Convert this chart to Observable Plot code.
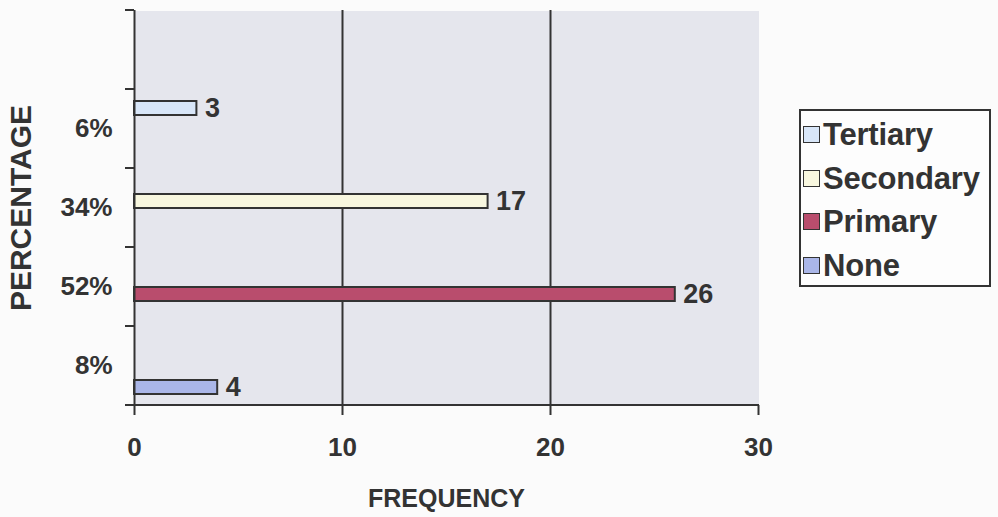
<!DOCTYPE html>
<html>
<head>
<meta charset="utf-8">
<script src="https://cdn.jsdelivr.net/npm/d3@7"></script>
<script src="https://cdn.jsdelivr.net/npm/@observablehq/plot@0.6"></script>
<style>
  html, body { margin: 0; padding: 0; background: #fbfbfb; }
  #wrap { position: relative; width: 998px; height: 517px; font-family: "Liberation Sans", Arial, sans-serif; font-weight: bold; color: #333; }
  #legend { position: absolute; left: 799px; top: 109px; width: 192px; height: 178px; border: 2px solid #333; background: #fdfdfd; box-sizing: border-box; padding-top: 2px; }
  .row { display: flex; align-items: center; height: 43.5px; padding-left: 2px; font-size: 31px; line-height: 1; letter-spacing: -0.2px; }
  .sw { width: 15px; height: 15px; border: 1.5px solid #333; margin-right: 3px; flex: none; }
</style>
</head>
<body>
<div id="wrap"><div id="legend"></div></div>
<script>
const categories = ["6%", "34%", "52%", "8%"];
const series = ["Tertiary", "Secondary", "Primary", "None"];
const frequency = [3, 17, 26, 4];
const colors = ["#d8e6f8", "#f8f7df", "#b94d6d", "#aab6e8"];
const xTicks = [0, 10, 20, 30];
const fyDomain = ["", ...categories];

const data = categories.map((c, i) => ({category: c, series: series[i], value: frequency[i]}));

const axisColor = "#333";

// Excel-style boundary ticks on the left axis (one per category band) and the bottom axis line
const boundaries = Plot.dot(fyDomain, {
  fy: d => d,
  frameAnchor: "middle",
  render(index, scales, values, dimensions) {
    const {marginTop, marginBottom, marginLeft, marginRight, width, height} = dimensions;
    const g = d3.create("svg:g").attr("stroke", axisColor).attr("stroke-width", 2);
    const top = marginTop, bottom = height - marginBottom;
    g.append("line").attr("x1", marginLeft - 9).attr("x2", marginLeft).attr("y1", top).attr("y2", top);
    for (const i of index) {
      if (fyDomain[i] === fyDomain[fyDomain.length - 1]) {
        g.append("line").attr("x1", marginLeft - 9).attr("x2", width - marginRight + 1).attr("y1", bottom).attr("y2", bottom);
      }
    }
    return g.node();
  }
});

const chart = Plot.plot({
  width: 998,
  height: 517,
  marginLeft: 134,
  marginRight: 240,
  marginTop: 10,
  marginBottom: 112,
  style: {fontFamily: "'Liberation Sans', Arial, sans-serif", fontWeight: "bold", fontSize: "26px", color: "#333", background: "transparent", overflow: "visible"},
  x: {domain: [0, 30], ticks: xTicks},
  y: {domain: series, paddingInner: 0, paddingOuter: 0.72, axis: null},
  fy: {domain: fyDomain, padding: 0, axis: null},
  color: {domain: series, range: colors},
  marks: [
    Plot.frame({fill: "#e5e6ed", stroke: null, shapeRendering: "crispEdges"}),
    Plot.ruleX([10, 20], {stroke: axisColor, strokeWidth: 2}),
    Plot.barX(data, {fy: "category", y: "series", x: "value", fill: "series", stroke: axisColor, strokeWidth: 2}),
    Plot.text(data, {fy: "category", y: "series", x: "value", text: d => String(d.value), textAnchor: "start", dx: 8, fill: "#333", fontSize: 27, fontWeight: "bold"}),
    Plot.ruleX([0], {stroke: axisColor, strokeWidth: 2}),
    boundaries,
    Plot.axisX({ticks: xTicks, tickSize: 10, tickPadding: 22, strokeWidth: 2, stroke: axisColor, label: null}),
    Plot.axisX({ticks: [], label: "FREQUENCY", labelArrow: "none", labelAnchor: "center", labelOffset: 101, dx: -13, fontSize: 25}),
    Plot.axisFy({anchor: "left", tickSize: 0, tickPadding: 22, label: null}),
    Plot.axisFy({anchor: "left", ticks: [], label: "PERCENTAGE", labelAnchor: "center", labelOffset: 125, fontSize: 30})
  ]
});
document.getElementById("wrap").prepend(chart);

const legend = document.getElementById("legend");
series.forEach((s, i) => {
  const row = document.createElement("div");
  row.className = "row";
  const sw = document.createElement("span");
  sw.className = "sw";
  sw.style.background = colors[i];
  const t = document.createElement("span");
  t.textContent = s;
  row.append(sw, t);
  legend.append(row);
});
</script>
</body>
</html>
